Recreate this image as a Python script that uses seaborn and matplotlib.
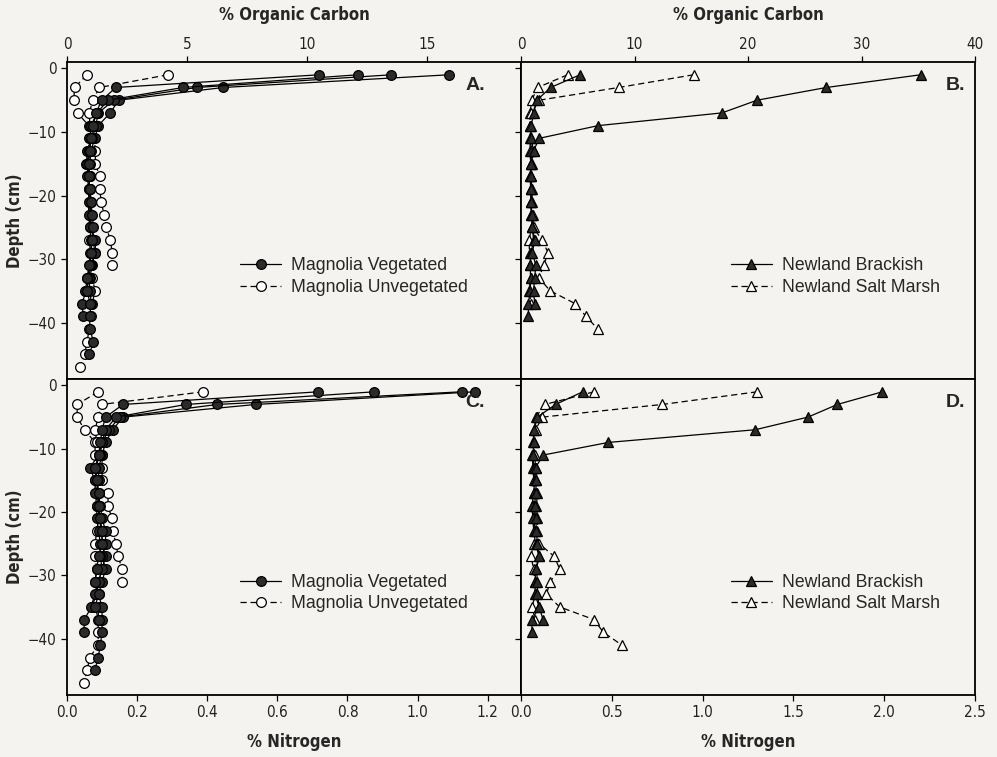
import numpy as np
import pandas as pd
import matplotlib
matplotlib.use("Agg")
import matplotlib.pyplot as plt
import seaborn as sns

sns.set_theme(style="ticks")
plt.rcParams['font.family'] = ['Liberation Sans', 'DejaVu Sans']

BG = "#f5f3ef"
NARROW = {"family": "DejaVu Sans", "stretch": "condensed"}

# sampling depths (cm), 2 cm slices
DEPTH = [-1, -3, -5, -7, -9, -11, -13, -15, -17, -19, -21, -23,
         -25, -27, -29, -31, -33, -35, -37, -39, -41, -43, -45, -47]

# % organic carbon, Magnolia
mag_veg_oc = [
    [15.9, 6.5, 2.15, 1.8, 1.3, 1.15, 1.0, 0.95, 0.9, 0.95, 0.95, 1.0, 1.0, 1.1, 1.15, 1.05, 0.95, 0.8, 0.62, 0.68],
    [13.5, 5.4, 1.95, 1.3, 1.2, 1.05, 0.85, 0.8, 0.95, 0.9, 0.95, 0.95, 1.0, 1.18, 1.18, 1.0, 0.9, 0.97, 1.0, 0.95, 0.95, 1.1, 0.93],
    [12.1, 4.83, 1.7, 1.25, 1.0, 0.95, 0.9, 0.85, 0.85, 0.9, 0.9, 0.9, 0.95, 1.0, 1.0, 0.95, 0.85, 0.76],
    [10.5, 2.03, 1.45, 1.2, 1.1, 1.0, 0.95, 0.9, 0.9, 0.95, 1.0, 1.05, 1.1, 1.05, 1.0, 0.9, 0.85, 0.85, 0.95],
]
mag_unveg_oc = [
    [0.83, 0.32, 0.28, 0.44, 0.9, 0.93, 0.9, 0.87, 0.97, 0.97, 1.0, 0.97, 0.97, 0.93, 0.97, 1.0, 1.04, 1.18, 1.04, 1.0, 0.93, 0.83, 0.74, 0.55],
    [4.2, 1.35, 1.07, 0.93, 0.95, 1.14, 1.18, 1.18, 1.36, 1.36, 1.43, 1.54, 1.63, 1.81, 1.88, 1.88],
]
# % nitrogen, Magnolia
mag_veg_n = [
    [1.163, 0.539, 0.16, 0.13, 0.11, 0.1, 0.09, 0.09, 0.085, 0.09, 0.09, 0.1, 0.1, 0.11, 0.1, 0.09, 0.085, 0.07, 0.049, 0.049],
    [1.126, 0.429, 0.15, 0.12, 0.1, 0.095, 0.08, 0.085, 0.09, 0.095, 0.1, 0.11, 0.11, 0.1, 0.11, 0.1, 0.09, 0.1, 0.1, 0.1, 0.095, 0.089, 0.079],
    [0.877, 0.339, 0.14, 0.11, 0.1, 0.09, 0.065, 0.08, 0.08, 0.085, 0.085, 0.09, 0.095, 0.095, 0.1, 0.09, 0.08, 0.068],
    [0.717, 0.16, 0.11, 0.1, 0.095, 0.09, 0.08, 0.085, 0.09, 0.09, 0.095, 0.1, 0.1, 0.09, 0.085, 0.08, 0.09, 0.08, 0.09],
]
mag_unveg_n = [
    [0.089, 0.029, 0.029, 0.05, 0.08, 0.08, 0.085, 0.08, 0.085, 0.085, 0.09, 0.085, 0.08, 0.08, 0.085, 0.08, 0.085, 0.09, 0.089, 0.089, 0.089, 0.065, 0.057, 0.049],
    [0.389, 0.099, 0.089, 0.08, 0.085, 0.1, 0.1, 0.1, 0.117, 0.117, 0.128, 0.13, 0.14, 0.146, 0.157, 0.157],
]

# % organic carbon, Newland
new_brack_oc = [
    [5.2, 2.6, 1.4, 1.1, 0.9, 0.85, 0.9, 0.9, 0.8, 0.85, 0.9, 0.9, 1.0, 1.1, 0.9, 0.8, 0.85, 0.8, 0.65, 0.65],
    [35.2, 26.9, 20.8, 17.7, 6.8, 1.6, 1.1, 0.9, 0.85, 0.9, 0.9, 0.95, 1.0, 1.2, 1.0, 1.3, 1.2, 1.1, 1.2],
]
new_salt_oc = [
    [4.1, 1.47, 0.94, 0.8, 0.8, 0.8, 0.8, 0.85, 0.8, 0.9, 0.85, 0.9, 0.95, 0.7, 0.75, 0.8, 0.85, 0.7, 0.9],
    [15.2, 8.6, 1.6, 0.9, 0.8, 0.9, 1.1, 0.95, 0.9, 0.95, 1.0, 1.05, 1.1, 1.83, 2.39, 1.98, 1.59, 2.57, 4.75, 5.72, 6.75],
]
# % nitrogen, Newland
new_brack_n = [
    [0.34, 0.19, 0.09, 0.072, 0.07, 0.065, 0.07, 0.075, 0.07, 0.06, 0.065, 0.07, 0.08, 0.099, 0.08, 0.078, 0.077, 0.1, 0.06, 0.06],
    [1.99, 1.742, 1.58, 1.289, 0.481, 0.121, 0.08, 0.085, 0.08, 0.075, 0.08, 0.085, 0.09, 0.1, 0.085, 0.09, 0.09, 0.1, 0.121],
]
new_salt_n = [
    [0.402, 0.132, 0.081, 0.072, 0.066, 0.062, 0.066, 0.07, 0.07, 0.07, 0.072, 0.075, 0.07, 0.054, 0.07, 0.075, 0.08, 0.06, 0.078],
    [1.30, 0.778, 0.117, 0.08, 0.07, 0.075, 0.08, 0.085, 0.09, 0.085, 0.09, 0.09, 0.1, 0.182, 0.213, 0.16, 0.14, 0.213, 0.402, 0.453, 0.554],
]

FILL = "#2b2b2b"


def draw_cores(ax, cores, label, marker, filled):
    for i, vals in enumerate(cores):
        df = pd.DataFrame({"value": vals, "depth": DEPTH[:len(vals)]})
        sns.lineplot(data=df, x="value", y="depth", ax=ax, sort=False,
                     estimator=None, color="black", linewidth=0.9,
                     linestyle="-" if filled else (0, (5, 3)),
                     marker=marker, markersize=7 if marker == "o" else 7.5,
                     markerfacecolor=FILL if filled else "white",
                     markeredgecolor="black", markeredgewidth=0.9,
                     label=label if i == 0 else None, legend=False)


fig, axes = plt.subplots(2, 2, figsize=(9.97, 7.57), dpi=100, facecolor=BG)
fig.subplots_adjust(left=0.0672, right=0.978, top=0.918, bottom=0.082,
                    wspace=0, hspace=0)

panels = [
    (axes[0, 0], mag_veg_oc, mag_unveg_oc, "o", "Magnolia Vegetated", "Magnolia Unvegetated", "A."),
    (axes[0, 1], new_brack_oc, new_salt_oc, "^", "Newland Brackish", "Newland Salt Marsh", "B."),
    (axes[1, 0], mag_veg_n, mag_unveg_n, "o", "Magnolia Vegetated", "Magnolia Unvegetated", "C."),
    (axes[1, 1], new_brack_n, new_salt_n, "^", "Newland Brackish", "Newland Salt Marsh", "D."),
]

for ax, solid, open_, mk, lab1, lab2, tag in panels:
    ax.set_facecolor(BG)
    draw_cores(ax, open_, lab2, mk, False)
    draw_cores(ax, solid, lab1, mk, True)
    h, l = ax.get_legend_handles_labels()
    order = [l.index(lab1), l.index(lab2)]
    ax.legend([h[k] for k in order], [l[k] for k in order],
              loc="upper left", bbox_to_anchor=(0.366 if mk == "o" else 0.447, 0.405),
              frameon=False, handlelength=2.3,
              handletextpad=0.6, labelspacing=0.25, borderaxespad=0,
              prop={"family": "Liberation Sans", "size": 12.7})
    ax.text(0.92 if mk == "o" else 0.978, 0.925, tag, transform=ax.transAxes,
            ha="right", va="center", fontsize=14, fontweight="bold",
            family="Liberation Sans")
    for s in ax.spines.values():
        s.set_linewidth(1.3)
        s.set_color("black")
    ax.set_yticks([0, -10, -20, -30, -40])
    ax.tick_params(axis="both", direction="out", length=4, width=0.9,
                   labelsize=11, colors="black", labelcolor="#222222")
    ax.set_xlabel("")
    ax.set_ylabel("")

# top row: organic carbon axis on top
for ax in axes[0]:
    ax.xaxis.tick_top()
    ax.xaxis.set_label_position("top")
    ax.set_xlabel("% Organic Carbon", fontsize=12, fontweight="bold", labelpad=12, **NARROW)
    ax.set_ylim(-48.8, 1.0)
for ax in axes[1]:
    ax.set_xlabel("% Nitrogen", fontsize=12, fontweight="bold", labelpad=9, **NARROW)
    ax.set_ylim(-48.9, 1.1)

axes[0, 0].set_xlim(0, 18.9)
axes[0, 0].set_xticks([0, 5, 10, 15])
axes[0, 1].set_xlim(0, 40)
axes[0, 1].set_xticks([0, 10, 20, 30, 40])
axes[1, 0].set_xlim(0, 1.295)
axes[1, 0].set_xticks([0.0, 0.2, 0.4, 0.6, 0.8, 1.0, 1.2])
axes[1, 0].set_xticklabels(["0.0", "0.2", "0.4", "0.6", "0.8", "1.0", "1.2"])
axes[1, 1].set_xlim(0, 2.5)
axes[1, 1].set_xticks([0.0, 0.5, 1.0, 1.5, 2.0, 2.5])
axes[1, 1].set_xticklabels(["0.0", "0.5", "1.0", "1.5", "2.0", "2.5"])
for ax in axes.flat:
    for t in ax.get_xticklabels() + ax.get_yticklabels():
        t.set_fontfamily(NARROW["family"])
        t.set_fontstretch(NARROW["stretch"])

for ax in axes[:, 1]:
    ax.tick_params(axis="y", labelleft=False)
for ax in axes[:, 0]:
    ax.set_ylabel("Depth (cm)", fontsize=12, fontweight="bold", labelpad=3, **NARROW)

fig.savefig("out.png", dpi=100, facecolor=BG)
